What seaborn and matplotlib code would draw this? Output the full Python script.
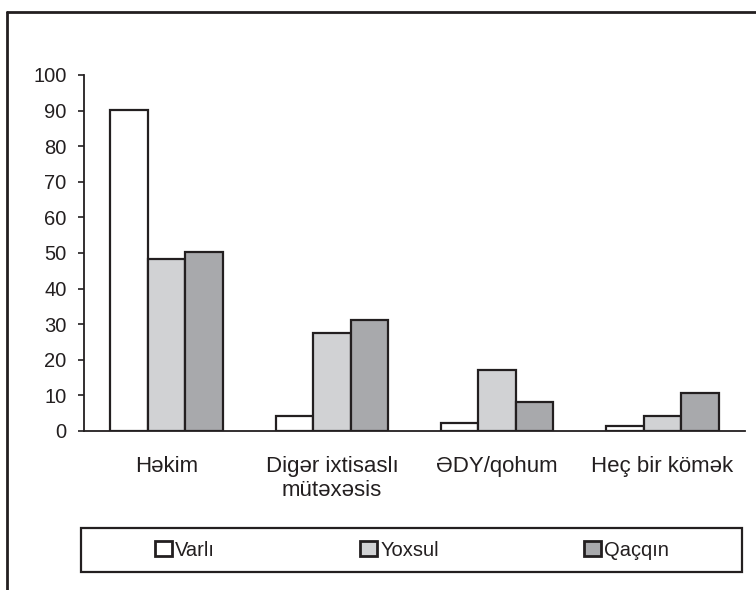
import pandas as pd
import matplotlib.pyplot as plt
from matplotlib.lines import Line2D
from matplotlib.patches import Rectangle
import seaborn as sns

# Data
categories = ["Həkim", "Digər ixtisaslı\nmütəxəsis", "ƏDY/qohum", "Heç bir kömək"]
groups = ["Varlı", "Yoxsul", "Qaçqın"]
varli = [90.2, 4.2, 2.2, 1.4]
yoxsul = [48.3, 27.5, 17.1, 4.2]
qacqin = [50.2, 31.2, 8.1, 10.7]
yticks = [0, 10, 20, 30, 40, 50, 60, 70, 80, 90, 100]

colors = ["#ffffff", "#d1d2d4", "#a8a9ac"]
INK = "#231f20"


def main():
    df = pd.DataFrame({
        "category": categories * 3,
        "group": [g for g in groups for _ in categories],
        "value": varli + yoxsul + qacqin,
    })

    sns.set_theme(style="white")
    plt.rcParams['font.family'] = ['Liberation Sans', 'DejaVu Sans']

    fig = plt.figure(figsize=(7.56, 5.90), dpi=100)
    ax = fig.add_axes([84 / 756, 1 - 431 / 590, 661 / 756, 356 / 590])

    sns.barplot(
        data=df, x="category", y="value", hue="group",
        order=categories, hue_order=groups, palette=colors,
        width=0.68, edgecolor=INK, linewidth=1.6,
        saturation=1, ax=ax,
    )

    ax.set_xlim(-0.5, 3.5)
    ax.set_ylim(0, 100)
    ax.set_yticks(yticks)
    ax.tick_params(axis="y", direction="out", length=4, width=1.2,
                   color=INK, labelsize=14.5, labelcolor=INK, pad=8.5, left=True)
    ax.tick_params(axis="x", length=0, labelsize=16, labelcolor=INK, pad=18)
    ax.set_xlabel("")
    ax.set_ylabel("")
    for s in ["top", "right"]:
        ax.spines[s].set_visible(False)
    for s in ["left", "bottom"]:
        ax.spines[s].set_color(INK)
        ax.spines[s].set_linewidth(1.3)

    # Legend in a wide box under the chart
    ax.get_legend().remove()
    box = Rectangle((81 / 756, 1 - 572 / 590), 661 / 756, 44 / 590,
                    transform=fig.transFigure, facecolor="white",
                    edgecolor=INK, linewidth=1.6)
    fig.add_artist(box)
    handles = [plt.Rectangle((0, 0), 1, 1, facecolor=c, edgecolor=INK, linewidth=2)
               for c in colors]
    leg = fig.legend(handles, groups, loc="center",
                     bbox_to_anchor=(412 / 756, 1 - 550 / 590),
                     ncol=3, frameon=False, fontsize=14.5,
                     handlelength=0.85, handleheight=0.8,
                     handletextpad=0.15, columnspacing=7.2, borderaxespad=0)
    for t in leg.get_texts():
        t.set_color(INK)

    # Outer frame (top and left edges visible)
    ytop = 1 - 12 / 590
    xl = 7 / 756
    fig.add_artist(Line2D([xl, 1], [ytop, ytop], color=INK, linewidth=2))
    fig.add_artist(Line2D([xl, xl], [0, ytop], color=INK, linewidth=2))

    fig.savefig("out.png", dpi=100)


if __name__ == "__main__":
    main()
